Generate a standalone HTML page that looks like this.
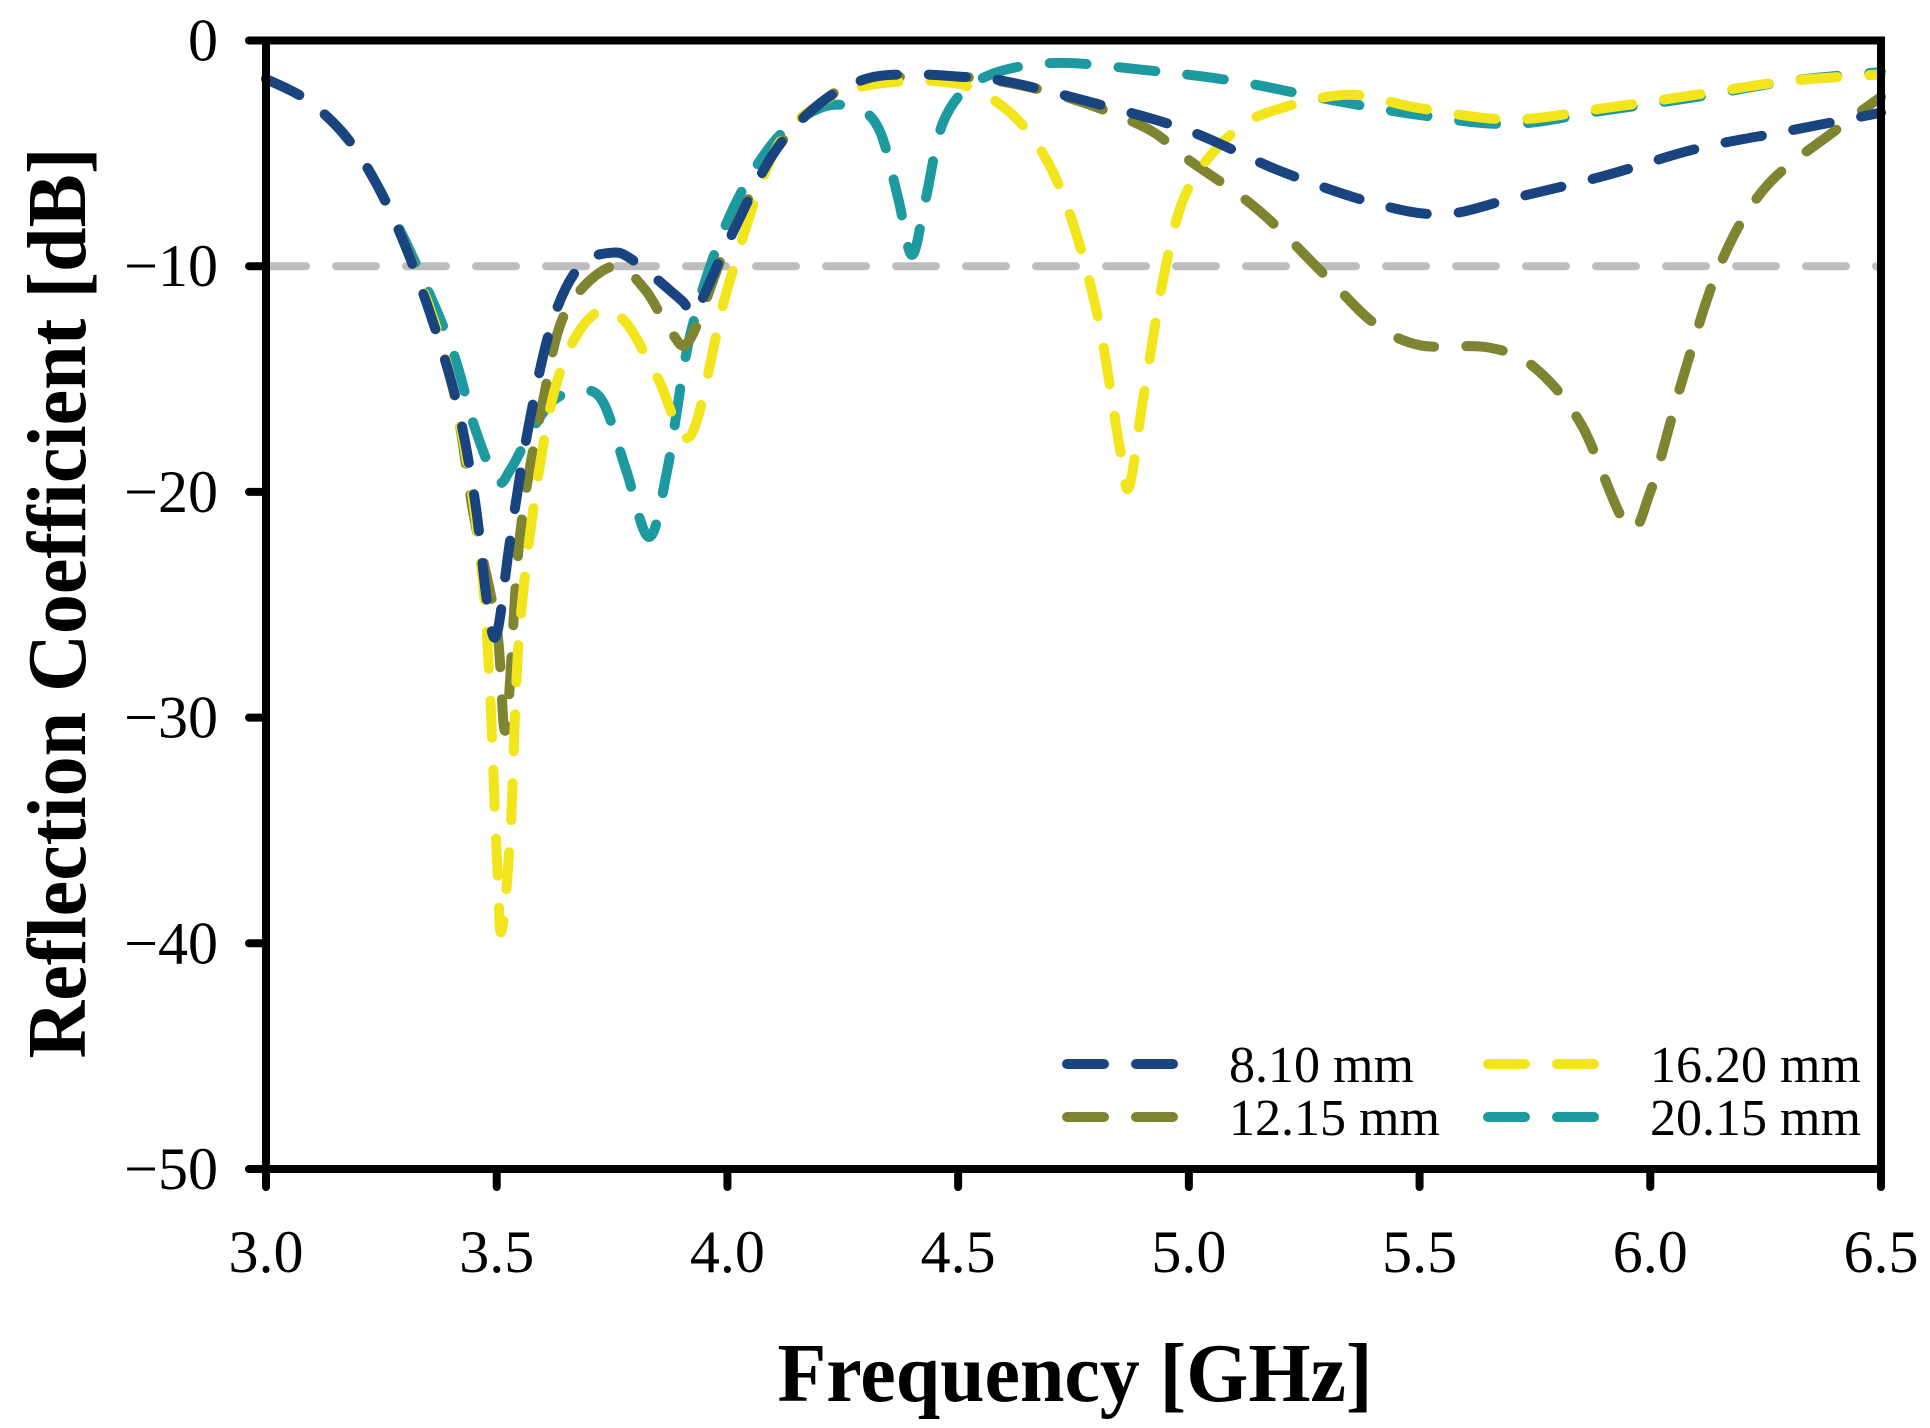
<!DOCTYPE html>
<html><head><meta charset="utf-8">
<style>
html,body{margin:0;padding:0;background:#fff;}
svg{display:block;}
text{font-family:"Liberation Serif","Times New Roman",serif;fill:#000;}
</style></head>
<body>
<svg id="chart" width="1930" height="1428" viewBox="0 0 1930 1428" xmlns="http://www.w3.org/2000/svg">
  <g id="series"></g>
  <g id="axes"></g>
  <g id="legend"></g>
</svg>
<script>
const xTicks = [3.0, 3.5, 4.0, 4.5, 5.0, 5.5, 6.0, 6.5];
const yTicks = [0, -10, -20, -30, -40, -50];
const seriesNames = ["8.10 mm", "12.15 mm", "16.20 mm", "20.15 mm"];
const seriesColors = ["#1a4480", "#7f8431", "#f2e51c", "#1d9aa0"];
const freq810 = [3.0,3.1,3.2,3.3,3.4,3.45,3.48,3.5,3.53,3.57,3.62,3.68,3.75,3.8,3.9,3.93,4.0,4.1,4.2,4.3,4.4,4.5,4.6,4.8,5.0,5.2,5.4,5.55,5.7,5.9,6.1,6.3,6.5];
const db810   = [-1.7,-2.8,-5,-9,-15,-20,-25,-26.3,-22,-17,-12.5,-10,-9.4,-9.8,-11.5,-12,-9,-5,-2.8,-1.7,-1.5,-1.6,-1.8,-2.8,-4,-5.8,-7.2,-7.7,-7,-6,-4.8,-4,-3.2];
const freq1215 = [3.0,3.1,3.2,3.3,3.4,3.45,3.5,3.52,3.55,3.6,3.65,3.75,3.82,3.88,3.92,4.0,4.1,4.2,4.3,4.5,4.7,4.9,5.0,5.15,5.3,5.4,5.5,5.65,5.75,5.85,5.95,6.0,6.07,6.15,6.25,6.4,6.5];
const db1215   = [-1.7,-2.8,-5,-9,-15,-21,-26,-30.5,-22,-16,-12,-10,-11,-13,-13.2,-9,-5,-2.8,-1.8,-1.6,-2.3,-3.8,-5.3,-7.5,-10.5,-12.5,-13.5,-13.6,-14.5,-17,-21.5,-20,-15,-10,-6.5,-4,-2.5];
const freq1620 = [3.0,3.1,3.2,3.3,3.4,3.47,3.5,3.51,3.53,3.55,3.6,3.65,3.72,3.78,3.85,3.92,4.0,4.1,4.2,4.3,4.45,4.55,4.65,4.73,4.8,4.85,4.87,4.9,4.95,5.0,5.1,5.2,5.35,5.5,5.7,5.9,6.1,6.3,6.5];
const db1620   = [-1.7,-2.8,-5,-9,-15,-24,-36,-39.5,-35,-26,-18,-14,-12,-12.5,-15,-17.5,-11,-5,-2.8,-2,-1.8,-2.3,-4,-7,-12,-18,-19.8,-16,-10,-6.5,-4,-3,-2.4,-3,-3.5,-3,-2.4,-1.8,-1.5];
const freq2015 = [3.0,3.1,3.2,3.3,3.4,3.45,3.5,3.53,3.57,3.62,3.68,3.73,3.78,3.83,3.87,3.92,4.0,4.1,4.2,4.28,4.33,4.37,4.4,4.43,4.47,4.55,4.7,4.9,5.1,5.3,5.5,5.7,5.9,6.1,6.3,6.5];
const db2015   = [-1.7,-2.8,-5,-8.8,-13.5,-17,-19.5,-19,-17.5,-16,-15.5,-16,-19,-22,-19,-13,-8,-4.5,-3,-3,-4,-7,-9.5,-7,-3.5,-1.7,-1,-1.3,-1.8,-2.6,-3.3,-3.7,-3.1,-2.5,-1.8,-1.4];
const refLevel = -10;

const NS = "http://www.w3.org/2000/svg";
const X0 = 266, X1 = 1881, Y0 = 40.5, Y1 = 1169;
function xs(v){ return X0 + (v - 3.0) / 3.5 * (X1 - X0); }
function ys(v){ return Y0 + (0 - v) / 50 * (Y1 - Y0); }
function mk(tag, attrs, parent){
  const e = document.createElementNS(NS, tag);
  for (const k in attrs) e.setAttribute(k, attrs[k]);
  parent.appendChild(e);
  return e;
}
function smoothPath(px, py){
  let d = "M" + px[0].toFixed(1) + "," + py[0].toFixed(1);
  for (let i = 0; i < px.length - 1; i++){
    const x0 = px[Math.max(i-1,0)], y0 = py[Math.max(i-1,0)];
    const x1 = px[i], y1 = py[i], x2 = px[i+1], y2 = py[i+1];
    const x3 = px[Math.min(i+2,px.length-1)], y3 = py[Math.min(i+2,px.length-1)];
    const c1x = x1 + (x2 - x0)/6, c1y = y1 + (y2 - y0)/6;
    const c2x = x2 - (x3 - x1)/6, c2y = y2 - (y3 - y1)/6;
    d += " C" + c1x.toFixed(1) + "," + c1y.toFixed(1) + " " + c2x.toFixed(1) + "," + c2y.toFixed(1) + " " + x2.toFixed(1) + "," + y2.toFixed(1);
  }
  return d;
}
const axes = document.getElementById("axes");
const seriesG = document.getElementById("series");
const legend = document.getElementById("legend");

// reference line
const ref = mk("line", {x1: X0, x2: X1, y1: ys(refLevel), y2: ys(refLevel), stroke: "#bdbdbd", "stroke-width": 8, "stroke-dasharray": "40 30", "stroke-linecap": "round"}, seriesG);



const allFreq = [freq810, freq1215, freq1620, freq2015];
const allDb = [db810, db1215, db1620, db2015];
const order = [3, 1, 2, 0];
order.forEach(i => {
  const p = mk("path", {d: smoothPath(allFreq[i].map(xs), allDb[i].map(ys)), fill: "none", stroke: seriesColors[i], "stroke-width": 10, "stroke-dasharray": "37 32", "stroke-linecap": "round", "stroke-linejoin": "round"}, seriesG);
  
  
});

// axes frame
const frame = mk("path", {d: `M${X0},${Y0} H${X1} V${Y1} H${X0} Z`, fill: "none", stroke: "#000", "stroke-width": 8, "stroke-linejoin": "miter"}, axes);



xTicks.forEach(t => {
  const tk = mk("line", {x1: xs(t), x2: xs(t), y1: Y1, y2: Y1 + 18, stroke: "#000", "stroke-width": 8, "stroke-linecap": "round"}, axes);
  
  
  const tl = mk("text", {x: xs(t), y: 1272, "text-anchor": "middle", "font-size": 60}, axes);
  tl.textContent = t.toFixed(1);
  
  
});
yTicks.forEach(t => {
  const tk = mk("line", {x1: X0 - 17, x2: X0, y1: ys(t), y2: ys(t), stroke: "#000", "stroke-width": 8, "stroke-linecap": "round"}, axes);
  
  
  const tl = mk("text", {x: 218, y: ys(t) + 20, "text-anchor": "end", "font-size": 60}, axes);
  tl.textContent = t === 0 ? "0" : "\u2212" + Math.abs(t);
  
  
});

const xt = mk("text", {x: 1075, y: 1401, "text-anchor": "middle", "font-size": 84, "font-weight": "bold", textLength: 595, lengthAdjust: "spacingAndGlyphs"}, axes);
xt.textContent = "Frequency [GHz]";


const yt = mk("text", {x: 0, y: 0, "text-anchor": "middle", "font-size": 84, "font-weight": "bold", textLength: 911, lengthAdjust: "spacingAndGlyphs", transform: "translate(85,603) rotate(-90)"}, axes);
yt.textContent = "Reflection Coefficient [dB]";



// legend
const legPos = [[1062, 1064, 1229], [1062, 1117, 1229], [1483, 1064, 1650], [1483, 1117, 1650]];
seriesNames.forEach((n, i) => {
  const [lx, ly, tx] = legPos[i];
  const g = mk("g", {}, legend);
  
  
  const l = mk("line", {x1: lx + 5, x2: lx + 118, y1: ly, y2: ly, stroke: seriesColors[i], "stroke-width": 10, "stroke-dasharray": "37 32", "stroke-linecap": "round"}, g);
  
  
  const t = mk("text", {x: tx, y: ly + 18, "font-size": 52}, g);
  t.textContent = n;
  
  
});
</script>
</body></html>
